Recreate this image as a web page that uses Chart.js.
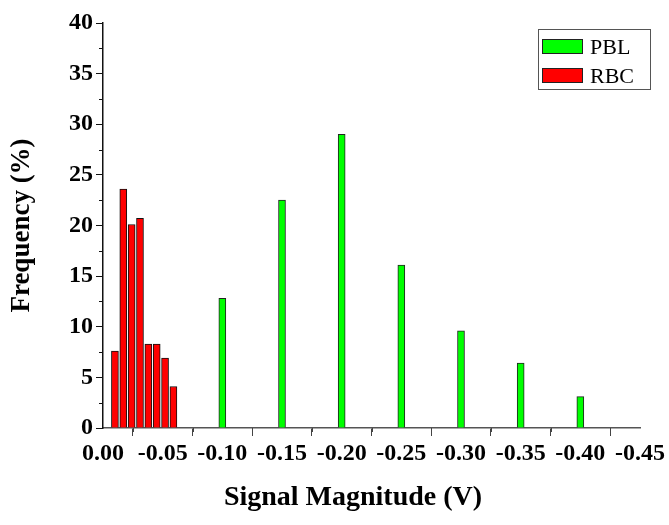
<!DOCTYPE html>
<html>
<head>
<meta charset="utf-8">
<title>Signal Magnitude Histogram</title>
<script src="https://cdn.jsdelivr.net/npm/chart.js@4.4.1/dist/chart.umd.min.js"></script>
<style>
  html, body { margin: 0; padding: 0; background: #fff; }
  #wrap { width: 669px; height: 525px; }
</style>
</head>
<body>
<div id="wrap"><canvas id="histChart"></canvas></div>
<script>
// Signal magnitude (V, shown as negative on the axis) vs frequency (%)
const pblMagnitude = [0.10, 0.15, 0.20, 0.25, 0.30, 0.35, 0.40];
const pblFrequency = [12.8, 22.5, 29.0, 16.1, 9.6, 6.4, 3.1];
const rbcMagnitude = [0.010, 0.017, 0.024, 0.031, 0.038, 0.045, 0.052, 0.059];
const rbcFrequency = [7.6, 23.6, 20.1, 20.7, 8.3, 8.3, 6.9, 4.1];
const seriesLabels = ['PBL', 'RBC'];
const xTitle = 'Signal Magnitude (V)';
const yTitle = 'Frequency (%)';

const SERIF = '"Liberation Serif", "Times New Roman", serif';

function toPoints(xs, ys) { return xs.map((x, i) => ({ x, y: ys[i] })); }
function fmtMag(v) { return Math.abs(v) < 1e-9 ? '0.00' : '-' + v.toFixed(2); }

// short ticks halfway between the labelled ones
const minorTicks = {
  id: 'minorTicks',
  afterDraw(chart) {
    const { ctx, scales: { x, y } } = chart;
    ctx.save();
    ctx.lineWidth = 1;
    ctx.beginPath();
    ctx.strokeStyle = '#444';
    for (let i = 0; i < x.ticks.length - 1; i++) {
      const px = Math.round(x.getPixelForValue((x.ticks[i].value + x.ticks[i + 1].value) / 2)) + 0.5;
      ctx.moveTo(px, x.top); ctx.lineTo(px, x.top + 4);
    }
    ctx.stroke();
    ctx.beginPath();
    ctx.strokeStyle = '#111';
    for (let i = 0; i < y.ticks.length - 1; i++) {
      const py = Math.round(y.getPixelForValue((y.ticks[i].value + y.ticks[i + 1].value) / 2)) + 0.5;
      ctx.moveTo(y.right, py); ctx.lineTo(y.right - 4, py);
    }
    ctx.stroke();
    ctx.restore();
  }
};

// boxed legend in the top right corner
const boxLegend = {
  id: 'boxLegend',
  afterDraw(chart, args, opts) {
    const { ctx } = chart;
    ctx.save();
    ctx.lineWidth = 1;
    ctx.strokeStyle = '#555';
    ctx.strokeRect(opts.x + 0.5, opts.y + 0.5, opts.w, opts.h);
    ctx.font = '22px ' + SERIF;
    ctx.textBaseline = 'alphabetic';
    ctx.textAlign = 'left';
    chart.data.datasets.forEach((d, i) => {
      const top = opts.y + 10 + i * 29;
      ctx.fillStyle = d.backgroundColor;
      ctx.fillRect(opts.x + 4, top, 41, 15);
      ctx.strokeStyle = '#222';
      ctx.strokeRect(opts.x + 4.5, top + 0.5, 40, 14);
      ctx.fillStyle = '#000';
      ctx.fillText(d.label, opts.x + 52, top + 15);
    });
    ctx.restore();
  }
};

// x axis title, placed a bit left of the plot centre like the original
const xAxisTitle = {
  id: 'xAxisTitle',
  afterDraw(chart, args, opts) {
    const { ctx } = chart;
    ctx.save();
    ctx.font = 'bold 28px ' + SERIF;
    ctx.fillStyle = '#000';
    ctx.textAlign = 'center';
    ctx.textBaseline = 'alphabetic';
    ctx.fillText(opts.text, opts.x, opts.y);
    ctx.restore();
  }
};

const tickFont = { family: SERIF, size: 24, weight: 'bold' };

new Chart(document.getElementById('histChart'), {
  type: 'bar',
  data: {
    datasets: [
      { label: seriesLabels[0], data: toPoints(pblMagnitude, pblFrequency),
        backgroundColor: '#00ff00', borderColor: '#222', borderWidth: 1, barThickness: 7 },
      { label: seriesLabels[1], data: toPoints(rbcMagnitude, rbcFrequency),
        backgroundColor: '#ff0000', borderColor: '#111', borderWidth: 1, barThickness: 7 },
    ],
  },
  options: {
    responsive: true, maintainAspectRatio: false, animation: false,
    devicePixelRatio: 1,
    grouped: false,
    layout: { padding: { left: 0, right: 29, top: 23, bottom: 0 } },
    plugins: {
      legend: { display: false },
      tooltip: { enabled: false },
      boxLegend: { x: 538, y: 29, w: 112, h: 60 },
      xAxisTitle: { text: xTitle, x: 353, y: 505 },
    },
    scales: {
      x: {
        type: 'linear', min: 0, max: 0.45, offset: false,
        afterFit: (s) => { s.height = 97; },
        border: { display: true, color: '#555', width: 1.5 },
        grid: { display: true, drawOnChartArea: false, drawTicks: true, tickLength: 8, color: '#444' },
        ticks: { stepSize: 0.05, color: '#000', font: tickFont, padding: 3, maxRotation: 0, autoSkip: false,
          callback: (v) => fmtMag(v) },
      },
      y: {
        min: 0, max: 40,
        afterFit: (s) => { s.width = 103; },
        border: { display: true, color: '#111', width: 1.5 },
        grid: { display: true, drawOnChartArea: false, drawTicks: true, tickLength: 7, color: '#111' },
        ticks: { stepSize: 5, color: '#000', font: tickFont, padding: 3 },
        title: { display: true, text: yTitle, color: '#000',
          font: { family: SERIF, size: 27, weight: 'bold' }, padding: { top: 6, bottom: 0 } },
      },
    },
  },
  plugins: [minorTicks, boxLegend, xAxisTitle],
});
</script>
</body>
</html>
